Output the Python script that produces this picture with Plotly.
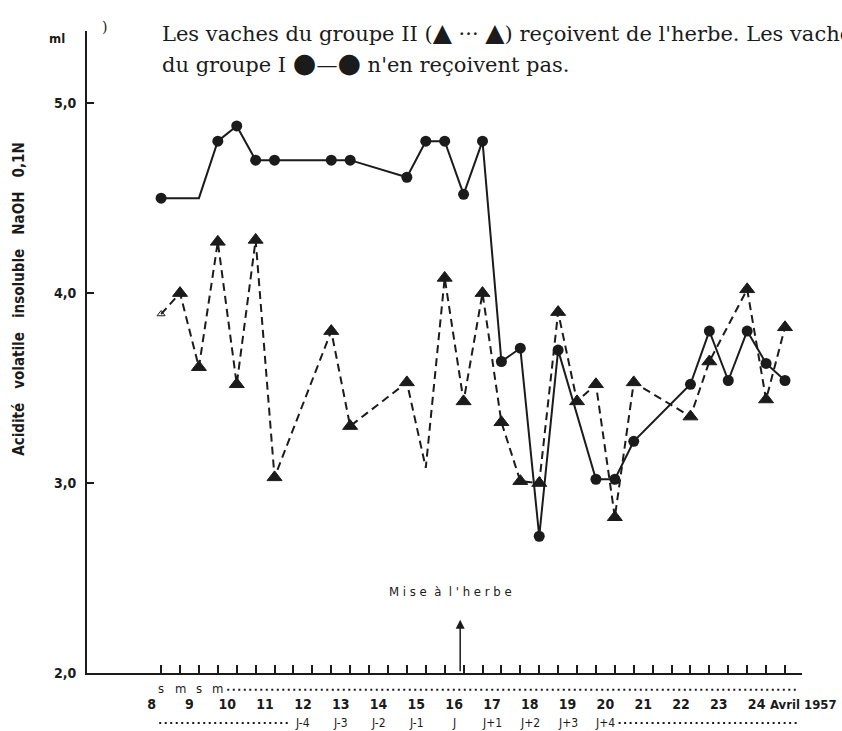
import plotly.graph_objects as go

# Sampling times in days of April 1957 (x.25 = evening "s", x.75 = next morning "m")
X_GROUPE_I = [8.25, 9.25, 9.75, 10.25, 10.75, 11.25, 12.75, 13.25, 14.75, 15.25,
              15.75, 16.25, 16.75, 17.25, 17.75, 18.25, 18.75, 19.75, 20.25, 20.75,
              22.25, 22.75, 23.25, 23.75, 24.25, 24.75]
Y_GROUPE_I = [4.50, 4.50, 4.80, 4.88, 4.70, 4.70, 4.70, 4.70, 4.61, 4.80,
              4.80, 4.52, 4.80, 3.64, 3.71, 2.72, 3.70, 3.02, 3.02, 3.22,
              3.52, 3.80, 3.54, 3.80, 3.63, 3.54]

X_GROUPE_II = [8.25, 8.75, 9.25, 9.75, 10.25, 10.75, 11.25, 12.75, 13.25, 14.75,
               15.25, 15.75, 16.25, 16.75, 17.25, 17.75, 18.25, 18.75, 19.25, 19.75,
               20.25, 20.75, 22.25, 22.75, 23.75, 24.25, 24.75]
Y_GROUPE_II = [3.89, 4.00, 3.61, 4.27, 3.52, 4.28, 3.03, 3.80, 3.30, 3.53,
               3.08, 4.08, 3.43, 4.00, 3.32, 3.01, 3.00, 3.90, 3.43, 3.52,
               2.82, 3.53, 3.35, 3.64, 4.02, 3.44, 3.82]

DAYS = list(range(8, 25))
DAY_LABELS = [str(d) for d in DAYS]
HALF_DAY_TICKS = [8.25 + 0.5 * k for k in range(34)]
SM_LABELS = ["s", "m", "s", "m"]
SM_POS = [8.25, 8.75, 9.25, 9.75]
J_LABELS = ["J-4", "J-3", "J-2", "J-1", "J", "J+1", "J+2", "J+3", "J+4"]
J_POS = [12, 13, 14, 15, 16, 17, 18, 19, 20]
Y_TICKS = [2.0, 3.0, 4.0, 5.0]
Y_TICK_LABELS = ["2,0", "3,0", "4,0", "5,0"]
MISE_A_L_HERBE = 16.16

INK = "#1b1b1b"
SANS = "Liberation Sans Narrow, DejaVu Sans Condensed, Roboto Condensed, Arial Narrow, Liberation Sans, sans-serif"
SERIF = "DejaVu Serif, Liberation Serif, serif"

X_RANGE = [6.29, 25.2]
Y_RANGE = [2.0, 5.38]

fig = go.Figure()

# Group I: no grass, solid line with dots
g1_sizes = [11] * len(X_GROUPE_I)
g1_sizes[1] = 0
fig.add_trace(go.Scatter(
    x=X_GROUPE_I, y=Y_GROUPE_I, mode="lines+markers", name="Groupe I",
    line=dict(color=INK, width=2),
    marker=dict(symbol="circle", size=g1_sizes, color=INK, opacity=1,
                line=dict(width=0)),
    showlegend=False,
))

# Group II: on grass, dashed line with triangles
g2_sizes = [13] * len(X_GROUPE_II)
g2_symbols = ["triangle-up"] * len(X_GROUPE_II)
g2_sizes[0] = 7
g2_symbols[0] = "triangle-up-open"
g2_sizes[10] = 0
fig.add_trace(go.Scatter(
    x=X_GROUPE_II, y=Y_GROUPE_II, mode="lines+markers", name="Groupe II",
    line=dict(color=INK, width=2, dash="8px,5px"),
    marker=dict(symbol=g2_symbols, size=g2_sizes, color=INK, opacity=1,
                line=dict(color=INK, width=1)),
    showlegend=False,
))

annotations = []

# Row of soir / matin marks under the first ticks
for lab, pos in zip(SM_LABELS, SM_POS):
    annotations.append(dict(x=pos, y=-0.024, xref="x", yref="paper", text=lab,
                            showarrow=False, font=dict(family=SANS, size=13, color=INK),
                            xanchor="center", yanchor="middle"))

# Days relative to turnout
for lab, pos in zip(J_LABELS, J_POS):
    annotations.append(dict(x=pos, y=-0.078, xref="x", yref="paper", text=lab,
                            showarrow=False, font=dict(family=SANS, size=12, color=INK),
                            xanchor="center", yanchor="middle"))

annotations.append(dict(x=24, y=-0.049, xref="x", yref="paper", xshift=11,
                        text="<b>Avril 1957</b>", showarrow=False,
                        font=dict(family=SANS, size=13, color=INK),
                        xanchor="left", yanchor="middle"))

# Turnout arrow
annotations.append(dict(x=MISE_A_L_HERBE, y=2.28, xref="x", yref="y", text="",
                        showarrow=True, ax=0, ay=53, arrowhead=2, arrowsize=1.2,
                        arrowwidth=1.5, arrowcolor=INK))
annotations.append(dict(x=MISE_A_L_HERBE, y=2.43, xref="x", yref="y", xshift=-10,
                        text="M i s e  à  l ' h e r b e", showarrow=False,
                        font=dict(family=SANS, size=13, color=INK),
                        xanchor="center", yanchor="middle"))

# Axis title and unit
annotations.append(dict(x=-0.095, y=0.583, xref="paper", yref="paper",
                        text="<b>Acidité   volatile   insoluble   NaOH   0,1N</b>",
                        textangle=-90, showarrow=False,
                        font=dict(family=SANS, size=15, color=INK),
                        xanchor="center", yanchor="middle"))
annotations.append(dict(x=-0.042, y=1.0, xref="paper", yref="paper", yshift=-7,
                        text="<b>ml</b>", showarrow=False,
                        font=dict(family=SANS, size=13, color=INK),
                        xanchor="center", yanchor="middle"))
annotations.append(dict(x=0.024, y=1.0, xref="paper", yref="paper", yshift=4,
                        text=")", showarrow=False,
                        font=dict(family=SERIF, size=14, color=INK),
                        xanchor="center", yanchor="middle"))

# Header text
annotations.append(dict(x=0.102, y=0.998, xref="paper", yref="paper",
                        text="Les vaches du groupe II (<span style='font-size:25px'>▲</span> ··· <span style='font-size:25px'>▲</span>) reçoivent de l'herbe. Les vaches",
                        showarrow=False, font=dict(family=SERIF, size=21, color=INK),
                        xanchor="left", yanchor="middle"))
annotations.append(dict(x=0.102, y=0.951, xref="paper", yref="paper",
                        text="du groupe I <span style='font-size:27px'>●</span>—<span style='font-size:27px'>●</span> n'en reçoivent pas.",
                        showarrow=False, font=dict(family=SERIF, size=21, color=INK),
                        xanchor="left", yanchor="middle"))

shapes = [
    dict(type="line", xref="x", yref="paper", x0=10.0, x1=25.1, y0=-0.026, y1=-0.026,
         line=dict(color=INK, width=2, dash="2px,3.5px")),
    dict(type="line", xref="x", yref="paper", x0=8.2, x1=11.65, y0=-0.078, y1=-0.078,
         line=dict(color=INK, width=2, dash="2px,3.5px")),
    dict(type="line", xref="x", yref="paper", x0=20.35, x1=25.1, y0=-0.078, y1=-0.078,
         line=dict(color=INK, width=2, dash="2px,3.5px")),
]

fig.update_layout(
    width=842, height=731,
    margin=dict(l=87, r=40, t=31, b=58),
    paper_bgcolor="white", plot_bgcolor="white",
    annotations=annotations, shapes=shapes,
    xaxis=dict(
        range=X_RANGE, showgrid=False, zeroline=False,
        showline=True, linecolor=INK, linewidth=2,
        tickmode="array", tickvals=DAYS, ticktext=DAY_LABELS, ticks="",
        ticklabelstandoff=17,
        tickfont=dict(family=SANS, size=14, color=INK, weight="bold"),
        minor=dict(tickmode="array", tickvals=HALF_DAY_TICKS, ticks="inside",
                   ticklen=8, tickwidth=1.5, tickcolor=INK, showgrid=False),
    ),
    yaxis=dict(
        range=Y_RANGE, showgrid=False, zeroline=False,
        showline=True, linecolor=INK, linewidth=2,
        tickmode="array", tickvals=Y_TICKS, ticktext=Y_TICK_LABELS,
        ticks="inside", ticklen=7, tickwidth=1.5, tickcolor=INK,
        ticklabelstandoff=6,
        tickfont=dict(family=SANS, size=14, color=INK, weight="bold"),
    ),
)

fig.write_html("out.html")
